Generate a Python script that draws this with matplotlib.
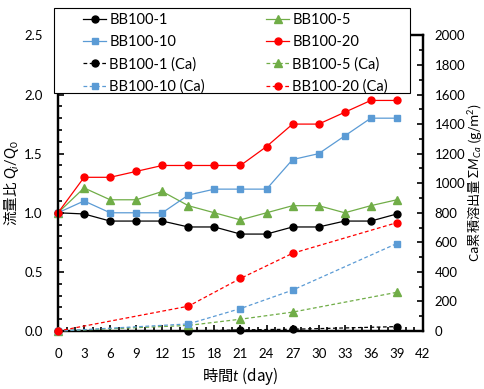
import matplotlib
matplotlib.use('Agg')
import matplotlib.pyplot as plt
from matplotlib.patches import Rectangle
from matplotlib.ticker import MultipleLocator, FormatStrFormatter

plt.rcParams['font.family'] = ['Lato', 'Noto Sans CJK JP', 'DejaVu Sans']
plt.rcParams['mathtext.fontset'] = 'custom'
plt.rcParams['mathtext.rm'] = 'Lato'
plt.rcParams['mathtext.it'] = 'Lato:italic'

# flow ratio Q_i/Q_0 (left axis)
days = [0, 3, 6, 9, 12, 15, 18, 21, 24, 27, 30, 33, 36, 39]
q_bb1 = [1.0, 0.99, 0.93, 0.93, 0.93, 0.88, 0.88, 0.82, 0.82, 0.88, 0.88, 0.93, 0.93, 0.99]
q_bb5 = [1.0, 1.21, 1.11, 1.11, 1.18, 1.06, 1.0, 0.94, 1.0, 1.06, 1.06, 1.0, 1.06, 1.11]
q_bb10 = [1.0, 1.1, 1.0, 1.0, 1.0, 1.15, 1.2, 1.2, 1.2, 1.45, 1.5, 1.65, 1.8, 1.8]
q_bb20 = [1.0, 1.3, 1.3, 1.35, 1.4, 1.4, 1.4, 1.4, 1.56, 1.75, 1.75, 1.85, 1.95, 1.95]

# cumulative Ca leaching (right axis)
ca_days = [0, 15, 21, 27, 39]
ca_bb1 = [0, 0, 8, 12, 30]
ca_bb5 = [0, 38, 80, 128, 262]
ca_bb10 = [0, 48, 152, 277, 592]
ca_bb20 = [0, 168, 356, 526, 733]

names = ['BB100-1', 'BB100-5', 'BB100-10', 'BB100-20']
colors = ['black', '#70AD47', '#5B9BD5', '#FF0000']
markers = ['o', '^', 's', 'o']

fig = plt.figure(figsize=(4.85, 3.89), dpi=100)
ax = fig.add_axes([0.1196, 0.149, 0.7524, 0.76])
ax2 = ax.twinx()

h = {}
for name, q, ca, c, m in zip(names, [q_bb1, q_bb5, q_bb10, q_bb20],
                             [ca_bb1, ca_bb5, ca_bb10, ca_bb20], colors, markers):
    ms = 5.5 if m == '^' else 5
    h[name], = ax.plot(days, q, color=c, marker=m, markersize=ms, lw=0.9,
                       clip_on=False, zorder=3, label=name)
    h[name + 'ca'], = ax2.plot(ca_days, ca, color=c, marker=m, markersize=ms, lw=0.9,
                               ls=(0, (3, 2)), clip_on=False, zorder=3,
                               label=name + ' (Ca)')

ax.set_xlim(0, 42)
ax.set_ylim(0, 2.5)
ax2.set_ylim(0, 2000)
ax.xaxis.set_major_locator(MultipleLocator(3))
ax.xaxis.set_minor_locator(MultipleLocator(1))
ax.yaxis.set_major_locator(MultipleLocator(0.5))
ax.yaxis.set_minor_locator(MultipleLocator(0.1))
ax.yaxis.set_major_formatter(FormatStrFormatter('%.1f'))
ax2.yaxis.set_major_locator(MultipleLocator(200))
ax2.yaxis.set_minor_locator(MultipleLocator(100))

for a in (ax, ax2):
    a.tick_params(which='both', direction='in', labelsize=9.5, width=1.2)
    a.tick_params(which='major', length=4)
    a.tick_params(which='minor', length=3)
    for s in a.spines.values():
        s.set_linewidth(1.6)
ax.tick_params(axis='x', pad=12)
ax.tick_params(axis='y', pad=11)
ax2.tick_params(axis='y', pad=8.5)

# mathtext uses only the first family for plain text, so name the CJK font alone
jp = 'Noto Sans CJK JP'
ax.set_xlabel('時間$t$ (day)', fontsize=11, labelpad=4, family=jp)
ax.set_ylabel('流量比 $Q_i/Q_0$', fontsize=10.5, labelpad=2, family=jp)
ax2.set_ylabel('Ca累積溶出量 $\\Sigma M_{Ca}$ (g/m$^2$)', fontsize=9.5,
               labelpad=0.5, family=jp)

# legend box drawn separately so the two columns can sit inset like the original
box = Rectangle((54 / 485, 1 - 92.5 / 389), 356 / 485, 84.5 / 389,
                transform=fig.transFigure, facecolor='white', edgecolor='black',
                lw=0.8, zorder=4)
fig.patches.append(box)

columns = [(['BB100-1', 'BB100-10', 'BB100-1ca', 'BB100-10ca'], 83),
           (['BB100-5', 'BB100-20', 'BB100-5ca', 'BB100-20ca'], 266)]
for keys, x0 in columns:
    leg = fig.legend([h[k] for k in keys], [h[k].get_label() for k in keys],
                     loc='upper left', bbox_to_anchor=(x0 / 485, 1 - 13 / 389),
                     fontsize=10.5, frameon=False, borderpad=0, borderaxespad=0,
                     handlelength=1.6, handletextpad=0.2, labelspacing=0.55)
    leg.set_zorder(5)

fig.savefig('out.png', dpi=100)
